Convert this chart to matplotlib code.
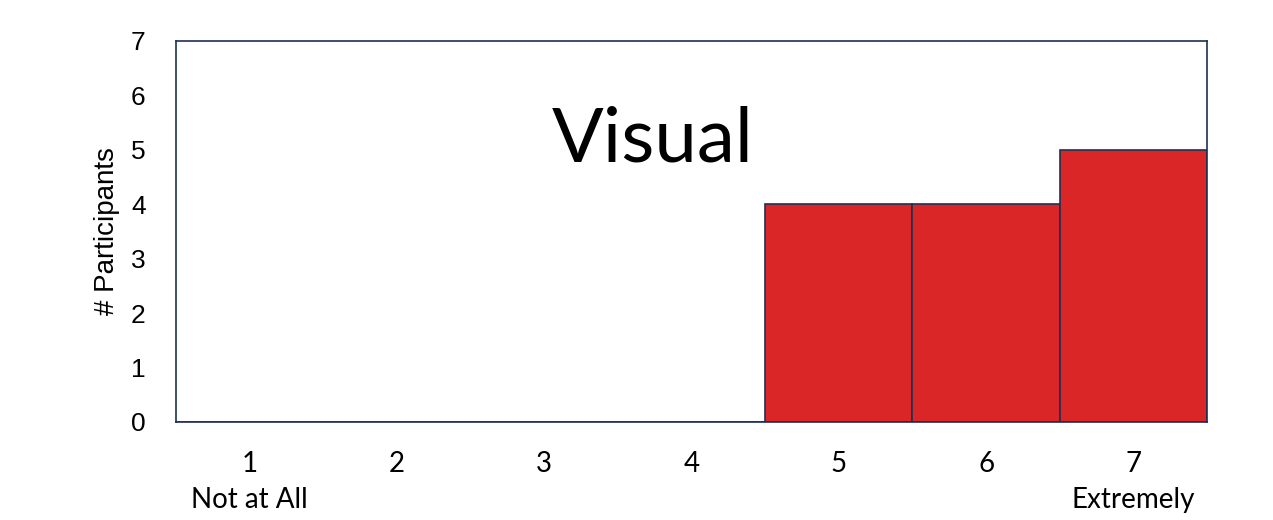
import matplotlib
matplotlib.use("Agg")
import matplotlib.pyplot as plt

# datos
categories = [1, 2, 3, 4, 5, 6, 7]
participants = [0, 0, 0, 0, 4, 4, 5]
tick_labels = ["1", "2", "3", "4", "5", "6", "7"]
anchor_labels = {1: "Not at All", 7: "Extremely"}

edge = "#1F3050"

fig = plt.figure(figsize=(12.73, 5.2), dpi=100)
ax = fig.add_axes([0.1383, 0.1885, 0.8099, 0.7327])

ax.bar(categories, participants, width=1.0, color="#DA2626", edgecolor=edge, linewidth=1.2)

ax.set_xlim(0.5, 7.5)
ax.set_ylim(0, 7)
ax.set_yticks(range(0, 8))
ax.set_yticklabels([str(v) for v in range(0, 8)], family="Liberation Sans", fontsize=19)
ax.set_xticks(categories)
ax.set_xticklabels(tick_labels, family="Lato", fontsize=20)
ax.tick_params(axis="both", length=0)
ax.tick_params(axis="x", pad=21)
ax.tick_params(axis="y", pad=22)

for spine in ax.spines.values():
    spine.set_color(edge)
    spine.set_linewidth(1.2)

# etiquetas de los extremos de la escala
for cat, txt in anchor_labels.items():
    ax.annotate(txt, xy=(cat, 0), xycoords=("data", "axes fraction"),
                xytext=(0, -47), textcoords="offset points",
                ha="center", va="top", family="Lato", fontsize=20,
                annotation_clip=False)

ax.set_ylabel("# Participants", family="Liberation Sans", fontsize=20, labelpad=8)

ax.text(0.462, 0.74, "Visual", transform=ax.transAxes, ha="center", va="center",
        family="Lato", fontsize=55)

fig.savefig("out.png", dpi=100)
